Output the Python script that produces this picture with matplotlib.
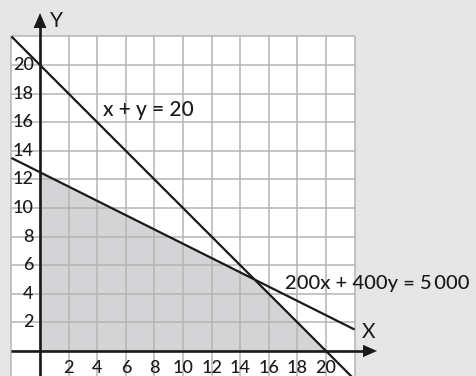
import matplotlib
matplotlib.use('Agg')
import matplotlib.pyplot as plt
import numpy as np
from matplotlib.patches import Polygon, Rectangle

plt.rcParams['font.family'] = ['Lato', 'DejaVu Sans']

# Grid and tick values
x_ticks = [2, 4, 6, 8, 10, 12, 14, 16, 18, 20]
y_ticks = [2, 4, 6, 8, 10, 12, 14, 16, 18, 20]
grid_lo, grid_hi, grid_step = -2, 22, 2

# Constraints a*x + b*y = c
c1 = (1, 1, 20)          # x + y = 20
c2 = (200, 400, 5000)    # 200x + 400y = 5000
line_x = [-2, 22]

label_c1 = "x + y = 20"
label_c2 = "200x + 400y = 5\u2009000"

GRID_COL = '#b4b4b4'
SHADE_COL = '#d4d4d6'
BG_COL = '#e6e6e6'
INK = '#1a1a1a'

fig = plt.figure(figsize=(4.77, 3.76), dpi=100)
fig.patch.set_facecolor(BG_COL)
ax = fig.add_axes([0, 0, 1, 1])
ax.set_xlim(-2.80, 30.56)
ax.set_ylim(-1.75, 24.55)
ax.axis('off')

# white grid paper
ax.add_patch(Rectangle((grid_lo, grid_lo), grid_hi - grid_lo, grid_hi - grid_lo,
                       facecolor='white', edgecolor='none', zorder=0))

# feasible region: bounded by both constraints and the axes
A = np.array([[c1[0], c1[1]], [c2[0], c2[1]]], dtype=float)
b = np.array([c1[2], c2[2]], dtype=float)
ix, iy = np.linalg.solve(A, b)
region = [(0, 0), (0, c2[2] / c2[1]), (ix, iy), (c1[2] / c1[0], 0)]
ax.add_patch(Polygon(region, closed=True, facecolor=SHADE_COL, edgecolor='none', zorder=1))

# grid lines
g = np.arange(grid_lo, grid_hi + 1, grid_step)
ax.vlines(g, grid_lo, grid_hi, colors=GRID_COL, linewidth=1.1, zorder=2)
ax.hlines(g, grid_lo, grid_hi, colors=GRID_COL, linewidth=1.1, zorder=2)

# constraint lines
lx = np.array(line_x, dtype=float)
for a_, b_, c_ in (c1, c2):
    ax.plot(lx, (c_ - a_ * lx) / b_, color=INK, linewidth=1.6, zorder=4,
            solid_capstyle='butt')

# axes with arrowheads
ax.plot([grid_lo, 22.7], [0, 0], color=INK, linewidth=1.9, zorder=5,
        solid_capstyle='butt')
ax.plot([0, 0], [grid_lo, 22.7], color=INK, linewidth=1.9, zorder=5,
        solid_capstyle='butt')
ax.add_patch(Polygon([(22.59, -0.43), (23.57, 0), (22.59, 0.43)], closed=True,
                     facecolor=INK, edgecolor='none', zorder=6))
ax.add_patch(Polygon([(-0.45, 22.59), (0, 23.64), (0.45, 22.59)], closed=True,
                     facecolor=INK, edgecolor='none', zorder=6))

ax.text(1.12, 23.11, "Y", fontsize=15, ha='center', va='center', color=INK, zorder=7)
ax.text(23.0, 1.33, "X", fontsize=15, ha='center', va='center', color=INK, zorder=7)

# tick labels
for t in x_ticks:
    ax.text(t, -0.6, str(t), fontsize=13, ha='center', va='top', color=INK,
            fontweight='medium', zorder=7)
for t in y_ticks:
    ax.text(-0.45, t, str(t), fontsize=13, ha='right', va='center', color=INK,
            fontweight='medium', zorder=7)

# constraint labels
ax.text(4.43, 16.43, label_c1, fontsize=15, ha='left', va='baseline', color=INK,
        fontweight='medium', zorder=7)
ax.text(17.13, 4.34, label_c2, fontsize=14.5, ha='left', va='baseline', color=INK,
        fontweight='medium', zorder=7)

fig.savefig('out.png', dpi=100, facecolor=fig.get_facecolor())
